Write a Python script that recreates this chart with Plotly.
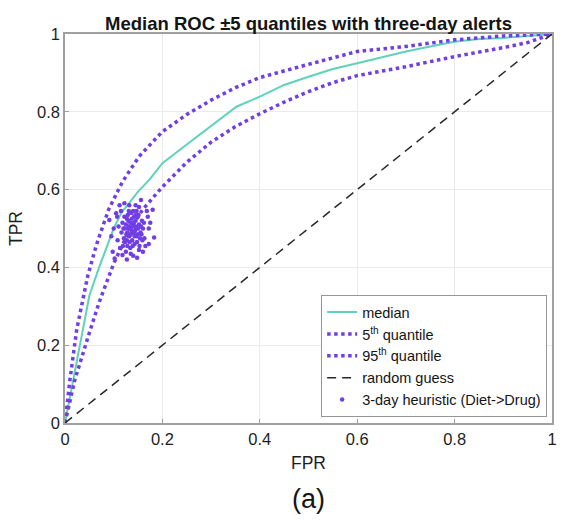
import plotly.graph_objects as go

# Median ROC
median_fpr = [0, 0.037, 0.05, 0.07, 0.1, 0.115, 0.15, 0.173, 0.2, 0.25, 0.3, 0.352, 0.4, 0.45, 0.5, 0.55, 0.6, 0.654, 0.7, 0.75, 0.8, 0.85, 0.9, 0.95, 1.0]
median_tpr = [0, 0.239, 0.327, 0.4, 0.5, 0.539, 0.595, 0.625, 0.668, 0.716, 0.764, 0.813, 0.839, 0.869, 0.89, 0.91, 0.925, 0.942, 0.955, 0.968, 0.98, 0.987, 0.99, 0.995, 1.0]

# 5th quantile (lower)
q5_fpr = [0, 0.02, 0.047, 0.07, 0.1, 0.13, 0.159, 0.2, 0.25, 0.3, 0.35, 0.4, 0.45, 0.5, 0.55, 0.6, 0.7, 0.8, 0.9, 0.95, 1.0]
q5_tpr = [0, 0.11, 0.22, 0.31, 0.41, 0.49, 0.548, 0.607, 0.67, 0.722, 0.762, 0.795, 0.825, 0.852, 0.875, 0.893, 0.916, 0.942, 0.965, 0.978, 1.0]

# 95th quantile (upper)
q95_fpr = [0, 0.01, 0.024, 0.047, 0.065, 0.09, 0.118, 0.152, 0.2, 0.25, 0.3, 0.35, 0.4, 0.45, 0.5, 0.6, 0.7, 0.8, 0.9, 1.0]
q95_tpr = [0, 0.11, 0.24, 0.38, 0.46, 0.55, 0.62, 0.685, 0.749, 0.793, 0.83, 0.862, 0.888, 0.906, 0.922, 0.955, 0.968, 0.985, 0.995, 1.0]

# Random guess
rand_fpr = [0, 1]
rand_tpr = [0, 1]

# 3-day heuristic (Diet->Drug) points
heur_fpr = [
    0.135, 0.140, 0.128, 0.145, 0.132, 0.150, 0.138, 0.125, 0.142, 0.155,
    0.130, 0.147, 0.136, 0.120, 0.152, 0.143, 0.127, 0.158, 0.134, 0.149,
    0.122, 0.139, 0.146, 0.131, 0.154, 0.126, 0.141, 0.137, 0.118, 0.160,
    0.133, 0.148, 0.144, 0.129, 0.151, 0.124, 0.157, 0.140, 0.135, 0.145,
    0.116, 0.162, 0.130, 0.153, 0.138, 0.121, 0.147, 0.127, 0.143, 0.134,
    0.156, 0.123, 0.139, 0.150, 0.131, 0.145, 0.128, 0.159, 0.137, 0.142,
    0.183, 0.132, 0.156, 0.180, 0.098, 0.118, 0.152, 0.102, 0.091, 0.105,
    0.112, 0.170, 0.165, 0.108, 0.125, 0.140, 0.172, 0.110, 0.145, 0.100,
    0.168, 0.115, 0.135, 0.160, 0.095, 0.122, 0.175, 0.113, 0.148, 0.127,
    0.107, 0.163, 0.119, 0.152, 0.172,
]
heur_tpr = [
    0.500, 0.510, 0.490, 0.520, 0.480, 0.500, 0.470, 0.510, 0.530, 0.490,
    0.520, 0.480, 0.540, 0.500, 0.510, 0.460, 0.470, 0.520, 0.450, 0.530,
    0.530, 0.490, 0.500, 0.505, 0.475, 0.485, 0.515, 0.525, 0.515, 0.500,
    0.465, 0.465, 0.495, 0.535, 0.535, 0.465, 0.485, 0.545, 0.485, 0.505,
    0.490, 0.515, 0.500, 0.455, 0.505, 0.475, 0.545, 0.525, 0.480, 0.515,
    0.505, 0.500, 0.455, 0.485, 0.545, 0.535, 0.455, 0.470, 0.495, 0.490,
    0.477, 0.560, 0.573, 0.548, 0.440, 0.432, 0.445, 0.423, 0.522, 0.539,
    0.560, 0.530, 0.455, 0.470, 0.440, 0.430, 0.500, 0.505, 0.560, 0.500,
    0.545, 0.545, 0.435, 0.440, 0.480, 0.565, 0.515, 0.450, 0.425, 0.420,
    0.530, 0.475, 0.455, 0.555, 0.460,
]

ticks = [0, 0.2, 0.4, 0.6, 0.8, 1]
tick_labels = ["0", "0.2", "0.4", "0.6", "0.8", "1"]

TEAL = "rgb(94,210,186)"
PURPLE = "rgb(112,62,228)"
FONT = "Liberation Sans, Arial, Helvetica, sans-serif"

fig = go.Figure()
fig.add_trace(go.Scatter(x=median_fpr, y=median_tpr, mode="lines", name="median",
                         line=dict(color=TEAL, width=2)))
fig.add_trace(go.Scatter(x=q5_fpr, y=q5_tpr, mode="lines", name="5<sup>th</sup> quantile",
                         line=dict(color=PURPLE, width=3.5, dash="dot")))
fig.add_trace(go.Scatter(x=q95_fpr, y=q95_tpr, mode="lines", name="95<sup>th</sup> quantile",
                         line=dict(color=PURPLE, width=3.5, dash="dot")))
fig.add_trace(go.Scatter(x=rand_fpr, y=rand_tpr, mode="lines", name="random guess",
                         line=dict(color="rgb(40,40,40)", width=1.5, dash="9px,6px")))
fig.add_trace(go.Scatter(x=heur_fpr, y=heur_tpr, mode="markers", name="3-day heuristic (Diet->Drug)",
                         marker=dict(color=PURPLE, size=4.5)))

axis_common = dict(
    range=[0, 1], tickvals=ticks, ticktext=tick_labels,
    showgrid=True, gridcolor="rgb(235,235,235)", gridwidth=1,
    showline=True, linecolor="rgb(160,160,160)", linewidth=1.5, mirror=True,
    zeroline=False, ticks="inside", ticklen=4, tickcolor="rgb(160,160,160)",
    tickfont=dict(size=16.5, color="rgb(30,30,30)", family=FONT),
)

fig.update_layout(
    width=562, height=524,
    margin=dict(l=65, r=5, t=34, b=101),
    paper_bgcolor="white", plot_bgcolor="white",
    font=dict(family=FONT, color="rgb(30,30,30)"),
    title=dict(text="<b>Median ROC ±5 quantiles with three-day alerts</b>",
               x=0.5, xref="paper", xanchor="center", y=1, yref="paper", yanchor="bottom",
               pad=dict(b=4), font=dict(size=18.5, color="rgb(20,20,20)", family=FONT)),
    xaxis=dict(axis_common, title=dict(text="FPR", font=dict(size=17.5), standoff=10)),
    yaxis=dict(axis_common, title=dict(text="TPR", font=dict(size=17.5), standoff=10)),
    legend=dict(x=0.99, y=0.015, xanchor="right", yanchor="bottom",
                bgcolor="white", bordercolor="rgb(150,150,150)", borderwidth=1,
                font=dict(size=14.5, color="rgb(20,20,20)", family=FONT),
                tracegroupgap=0, itemwidth=30),
    showlegend=True,
    annotations=[dict(text="(a)", x=0.5, y=-0.195, xref="paper", yref="paper",
                      xanchor="center", yanchor="middle", showarrow=False,
                      font=dict(size=27, color="rgb(20,20,20)", family=FONT))],
)

fig.write_html("out.html")
